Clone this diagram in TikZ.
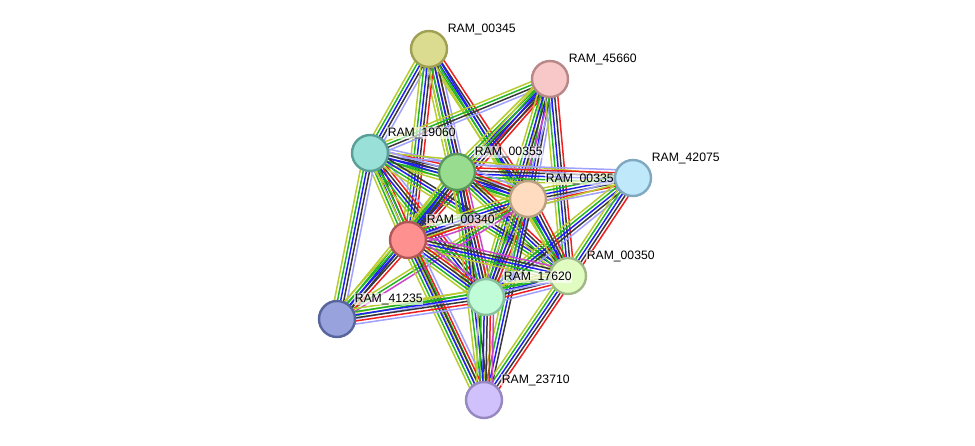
\documentclass[tikz,border=0pt]{standalone}
\usepackage{fontspec}
\setmainfont{Liberation Sans}
\usetikzlibrary{calc}
\pgfdeclarelayer{background}
\pgfsetlayers{background,main}
\definecolor{tm}{HTML}{B8CC30}
\definecolor{nb}{HTML}{22B422}
\definecolor{co}{HTML}{1E1EF0}
\definecolor{cx}{HTML}{383838}
\definecolor{fu}{HTML}{F01E1E}
\definecolor{ex}{HTML}{CC44CC}
\definecolor{db}{HTML}{A0A0FF}
\definecolor{fA}{HTML}{DCDC90}\definecolor{dA}{HTML}{A0A055}
\definecolor{fB}{HTML}{F8C8C8}\definecolor{dB}{HTML}{B88888}
\definecolor{fC}{HTML}{98E0D8}\definecolor{dC}{HTML}{5A9E98}
\definecolor{fD}{HTML}{98DC90}\definecolor{dD}{HTML}{5A985A}
\definecolor{fE}{HTML}{C0E8FB}\definecolor{dE}{HTML}{80A8C0}
\definecolor{fF}{HTML}{FFDCC0}\definecolor{dF}{HTML}{B8A080}
\definecolor{fG}{HTML}{FF9090}\definecolor{dG}{HTML}{B05858}
\definecolor{fH}{HTML}{E0FCC0}\definecolor{dH}{HTML}{A0B888}
\definecolor{fI}{HTML}{C0FCD8}\definecolor{dI}{HTML}{88C0A0}
\definecolor{fJ}{HTML}{98A2DC}\definecolor{dJ}{HTML}{58649C}
\definecolor{fK}{HTML}{D0C0FC}\definecolor{dK}{HTML}{9888C0}
\tikzset{
  prot/.style={circle, minimum size=36pt, inner sep=0pt, line width=2.4pt, fill=f#1, draw=d#1},
  lab/.style={anchor=west, font=\fontsize{12.2}{13}\selectfont, inner sep=0.6pt, fill=white, fill opacity=0.65, text opacity=1},
  ln/.style={line width=1.5pt}
}
\newcommand\bundle[3]{%
  \foreach \c [count=\i] in {#3} {\xdef\nlines{\i}}%
  \foreach \c [count=\i] in {#3} {%
    \pgfmathsetmacro\off{(\i-(\nlines+1)/2)*3.1}%
    \draw[ln,\c] ($(#1.center)!\off pt!90:(#2.center)$) -- ($(#2.center)!\off pt!-90:(#1.center)$);
  }%
}
\begin{document}
\begin{tikzpicture}[x=1pt,y=-1pt]
\useasboundingbox (0,0) rectangle (975,446);
\node[prot=A] (A) at (429,49) {};
\node[prot=B] (B) at (550,79) {};
\node[prot=C] (C) at (370,153) {};
\node[prot=D] (D) at (457,172) {};
\node[prot=E] (E) at (633,178) {};
\node[prot=F] (F) at (528,199) {};
\node[prot=G] (G) at (408,240) {};
\node[prot=H] (H) at (568,276) {};
\node[prot=I] (I) at (486,297) {};
\node[prot=J] (J) at (337,319) {};
\node[prot=K] (K) at (484,400) {};
\begin{pgfonlayer}{background}
\bundle{A}{C}{tm,nb,co,cx,db}
\bundle{A}{D}{tm,nb,co,cx,fu,db}
\bundle{A}{G}{tm,nb,co,cx,fu}
\bundle{A}{F}{tm,nb,co,cx,fu}
\bundle{A}{I}{tm,nb,co,cx}
\bundle{A}{H}{tm,nb,co}
\bundle{B}{C}{tm,nb,cx,db}
\bundle{B}{D}{tm,nb,co,cx,fu}
\bundle{B}{G}{tm,nb,co,cx,fu}
\bundle{B}{F}{tm,nb,co,cx,db}
\bundle{B}{I}{tm,nb,co,cx,ex,db}
\bundle{B}{H}{tm,nb,co,cx,fu}
\bundle{C}{D}{tm,nb,co,cx,fu,db}
\bundle{C}{E}{db,tm}
\bundle{C}{F}{tm,nb,co,cx,db}
\bundle{C}{G}{tm,nb,co,cx,fu}
\bundle{C}{I}{tm,nb,co,cx,fu,db}
\bundle{C}{H}{tm,nb,co,cx}
\bundle{C}{J}{tm,nb,co,cx,db}
\bundle{C}{K}{tm,nb}
\bundle{D}{E}{tm,nb,co,cx,fu,db}
\bundle{D}{F}{tm,nb,co,cx,fu,db}
\bundle{D}{G}{tm,nb,co,cx,fu}
\bundle{D}{H}{tm,nb,co,cx,fu}
\bundle{D}{I}{tm,nb,co,cx,fu,ex}
\bundle{D}{J}{tm,nb,co,cx}
\bundle{D}{K}{tm,nb,co,cx}
\bundle{E}{F}{tm,nb,co,cx,fu,db}
\bundle{E}{I}{tm,nb,co,cx,db}
\bundle{E}{H}{tm,nb,co,cx,fu}
\bundle{E}{G}{db,tm}
\bundle{F}{G}{tm,nb,co,cx,fu,ex}
\bundle{F}{H}{tm,nb,co,cx,fu}
\bundle{F}{I}{tm,nb,co,cx,fu,db}
\bundle{F}{J}{tm,nb,ex}
\bundle{F}{K}{tm,nb,co,cx}
\bundle{G}{H}{tm,nb,co,cx,ex}
\bundle{G}{I}{tm,nb,co,cx,fu,ex}
\bundle{G}{J}{tm,nb,co,cx,fu}
\bundle{G}{K}{tm,nb,co,cx,fu,db}
\bundle{H}{I}{tm,nb,co,cx,fu,db}
\bundle{H}{K}{tm,nb,co,cx,fu}
\bundle{H}{J}{tm,nb,db}
\bundle{I}{J}{tm,nb,co,cx,fu,db}
\bundle{I}{K}{tm,nb,co,cx,fu,ex}
\end{pgfonlayer}
\node[lab] (lA) at (447,29) {RAM\_00345};
\node[lab] (lB) at (568,59) {RAM\_45660};
\node[lab] (lC) at (387,133) {RAM\_19060};
\node[lab] (lD) at (474,152) {RAM\_00355};
\node[lab] (lE) at (651,158) {RAM\_42075};
\node[lab] (lF) at (545,179) {RAM\_00335};
\node[lab] (lG) at (426,220) {RAM\_00340};
\node[lab] (lH) at (586,256) {RAM\_00350};
\node[lab] (lI) at (503,277) {RAM\_17620};
\node[lab] (lJ) at (354,299) {RAM\_41235};
\node[lab] (lK) at (501,380) {RAM\_23710};
\end{tikzpicture}
\end{document}
